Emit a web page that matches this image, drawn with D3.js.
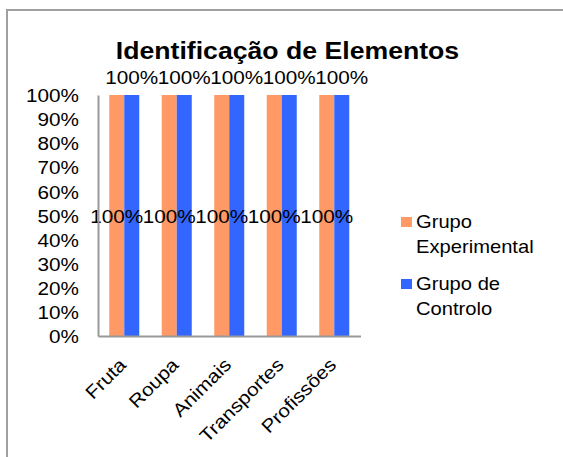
<!DOCTYPE html>
<html lang="pt">
<head>
  <meta charset="UTF-8">
  <title>Identificação de Elementos</title>
  <script src="https://d3js.org/d3.v7.min.js"></script>
  <style>
    body { margin: 0; background: #fff; }
    svg text { font-family: "Liberation Sans", Arial, sans-serif; fill: #000; }
  </style>
</head>
<body>
  <div id="chart"></div>
  <script>
    const categories = ["Fruta", "Roupa", "Animais", "Transportes", "Profissões"];
    const seriesNames = ["Grupo Experimental", "Grupo de Controlo"];
    const experimental = [1, 1, 1, 1, 1];
    const controlo = [1, 1, 1, 1, 1];
    const yTicks = [0, 0.1, 0.2, 0.3, 0.4, 0.5, 0.6, 0.7, 0.8, 0.9, 1];

    const colors = ["#FF9966", "#3366FF"];
    const stretch = 1.12; // text in the picture is a bit wide
    const font = "'Liberation Sans', Arial, sans-serif";

    const W = 563, H = 457;
    const plot = { left: 98, right: 360.5, top: 95, bottom: 336 };

    const svg = d3.select("#chart").append("svg")
      .attr("width", W)
      .attr("height", H);

    // outer frame
    svg.append("rect")
      .attr("x", 7).attr("y", 10)
      .attr("width", 600).attr("height", 500)
      .attr("fill", "none")
      .attr("stroke", "#a0a0a0")
      .attr("stroke-width", 2);

    // title
    svg.append("text")
      .attr("transform", `translate(287.5,59) scale(1.11,1)`)
      .attr("text-anchor", "middle")
      .style("font-size", "24px")
      .style("font-weight", "bold")
      .text("Identificação de Elementos");

    const data = categories.map((c, i) => ({ cat: c, values: [experimental[i], controlo[i]] }));

    //scales
    const x0 = d3.scaleBand().domain(categories).range([plot.left, plot.right]).padding(0);
    const x1 = d3.scaleBand().domain(seriesNames).range([0, x0.bandwidth()])
      .paddingInner(0).paddingOuter(0.75);
    const y = d3.scaleLinear().domain([0, 1]).range([plot.bottom, plot.top]);

    //bars
    const groups = svg.selectAll(".grp")
      .data(data)
      .enter().append("g")
      .attr("class", "grp")
      .attr("transform", d => `translate(${x0(d.cat)},0)`);

    groups.selectAll("rect")
      .data(d => d.values.map((v, i) => ({ s: seriesNames[i], v, i })))
      .enter().append("rect")
      .attr("x", d => x1(d.s))
      .attr("y", d => y(d.v))
      .attr("width", x1.bandwidth())
      .attr("height", d => y(0) - y(d.v))
      .attr("fill", d => colors[d.i]);

    //labels: orange in the middle, blue above the bar
    groups.append("text")
      .attr("transform", d => `translate(${x1(seriesNames[0]) + x1.bandwidth() / 2},${y(d.values[0] / 2) + 7}) scale(${stretch},1)`)
      .attr("text-anchor", "middle")
      .style("font-size", "18.5px")
      .text(d => d3.format(".0%")(d.values[0]));

    groups.append("text")
      .attr("transform", d => `translate(${x1(seriesNames[1]) + x1.bandwidth() / 2},${y(d.values[1]) - 11.5}) scale(${stretch},1)`)
      .attr("text-anchor", "middle")
      .style("font-size", "18.5px")
      .text(d => d3.format(".0%")(d.values[1]));

    //axes
    const yAxis = svg.append("g")
      .attr("transform", `translate(${plot.left},0)`)
      .call(d3.axisLeft(y).tickValues(yTicks).tickFormat(d3.format(".0%")).tickSize(0).tickSizeOuter(0));
    yAxis.select(".domain").attr("stroke", "#999").attr("stroke-width", 2);
    yAxis.selectAll("text")
      .attr("x", -19 / stretch)
      .attr("dy", "0.36em")
      .attr("transform", `scale(${stretch},1)`)
      .style("font-size", "18.5px")
      .style("font-family", font);

    const xAxis = svg.append("g")
      .attr("transform", `translate(0,${plot.bottom})`)
      .call(d3.axisBottom(x0).tickSize(0).tickSizeOuter(0));
    xAxis.select(".domain").attr("stroke", "#999").attr("stroke-width", 2);
    xAxis.selectAll("text")
      .attr("x", 0).attr("y", 0).attr("dy", 0)
      .attr("text-anchor", "end")
      .attr("transform", `translate(3,30) rotate(-45) scale(${stretch},1)`)
      .style("font-size", "18.5px")
      .style("font-family", font);

    //legend
    const legendLines = [["Grupo", "Experimental"], ["Grupo de", "Controlo"]];
    const legend = svg.selectAll(".legend")
      .data(seriesNames)
      .enter().append("g")
      .attr("class", "legend")
      .attr("transform", (d, i) => `translate(401,${217 + i * 62})`);
    legend.append("rect")
      .attr("width", 11)
      .attr("height", 10)
      .attr("fill", (d, i) => colors[i]);
    legend.append("text")
      .attr("transform", `translate(15,11) scale(${stretch},1)`)
      .style("font-size", "18px")
      .selectAll("tspan")
      .data((d, i) => legendLines[i])
      .enter().append("tspan")
      .attr("x", 0)
      .attr("dy", (d, i) => i === 0 ? 0 : 25)
      .text(d => d);
  </script>
</body>
</html>
